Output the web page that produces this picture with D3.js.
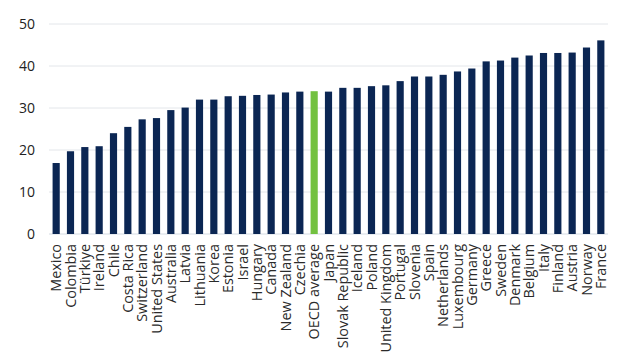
<!DOCTYPE html>
<html><head><meta charset="utf-8">
<script src="https://cdn.jsdelivr.net/npm/d3@7"></script>
<style>body{margin:0;background:#fff}svg{display:block;font-family:"Open Sans",sans-serif}</style>
</head><body>
<script>
const categories = ["Mexico","Colombia","Türkiye","Ireland","Chile","Costa Rica","Switzerland","United States","Australia","Latvia","Lithuania","Korea","Estonia","Israel","Hungary","Canada","New Zealand","Czechia","OECD average","Japan","Slovak Republic","Iceland","Poland","United Kingdom","Portugal","Slovenia","Spain","Netherlands","Luxembourg","Germany","Greece","Sweden","Denmark","Belgium","Italy","Finland","Austria","Norway","France"];
const values = [16.9,19.7,20.7,20.9,24.0,25.5,27.3,27.6,29.5,30.1,32.0,32.0,32.8,32.9,33.1,33.2,33.7,33.9,34.0,33.9,34.8,34.8,35.2,35.4,36.4,37.5,37.5,37.9,38.7,39.4,41.1,41.3,42.0,42.5,43.1,43.1,43.2,44.4,46.1];
const highlight = ["OECD average"];
const yTicks = [0,10,20,30,40,50];

const W = 640, H = 360;
const m = {left:49, right:32, top:24, bottom:126};
const svg = d3.select("body").append("svg").attr("width",W).attr("height",H);
const x = d3.scaleBand().domain(categories).range([m.left, W-m.right]).paddingInner(0.5).paddingOuter(0.25);
const y = d3.scaleLinear().domain([0,50]).range([H-m.bottom, m.top]);

const grid = svg.append("g");
grid.selectAll("line").data(yTicks).join("line")
  .attr("x1", m.left).attr("x2", W-m.right)
  .attr("y1", d=>y(d)).attr("y2", d=>y(d))
  .attr("stroke", d=> d===0 ? "#d4dbe3" : "#e3e6ea").attr("stroke-width",1);

const yAxis = svg.append("g").attr("transform",`translate(${m.left},0)`)
  .call(d3.axisLeft(y).tickValues(yTicks).tickSize(0).tickPadding(14));
yAxis.select(".domain").remove();
yAxis.selectAll("text").attr("font-size",14).attr("fill","#222").attr("font-family","Open Sans");

svg.append("g").selectAll("rect").data(categories).join("rect")
  .attr("x", d=>x(d)).attr("width", x.bandwidth())
  .attr("y", (d,i)=>y(values[i])).attr("height",(d,i)=>y(0)-y(values[i]))
  .attr("fill", d=> highlight.includes(d) ? "#73c140" : "#0b2653");

const xAxis = svg.append("g").attr("transform",`translate(0,${y(0)})`)
  .call(d3.axisBottom(x).tickSize(0).tickPadding(0));
xAxis.select(".domain").remove();
xAxis.selectAll("text")
  .attr("font-size",14.4).attr("fill","#2a2a2a").attr("font-family","Open Sans")
  .attr("transform","rotate(-90)")
  .attr("text-anchor","end").attr("x",-10).attr("y",0).attr("dy","0.35em");
</script>
</body></html>
